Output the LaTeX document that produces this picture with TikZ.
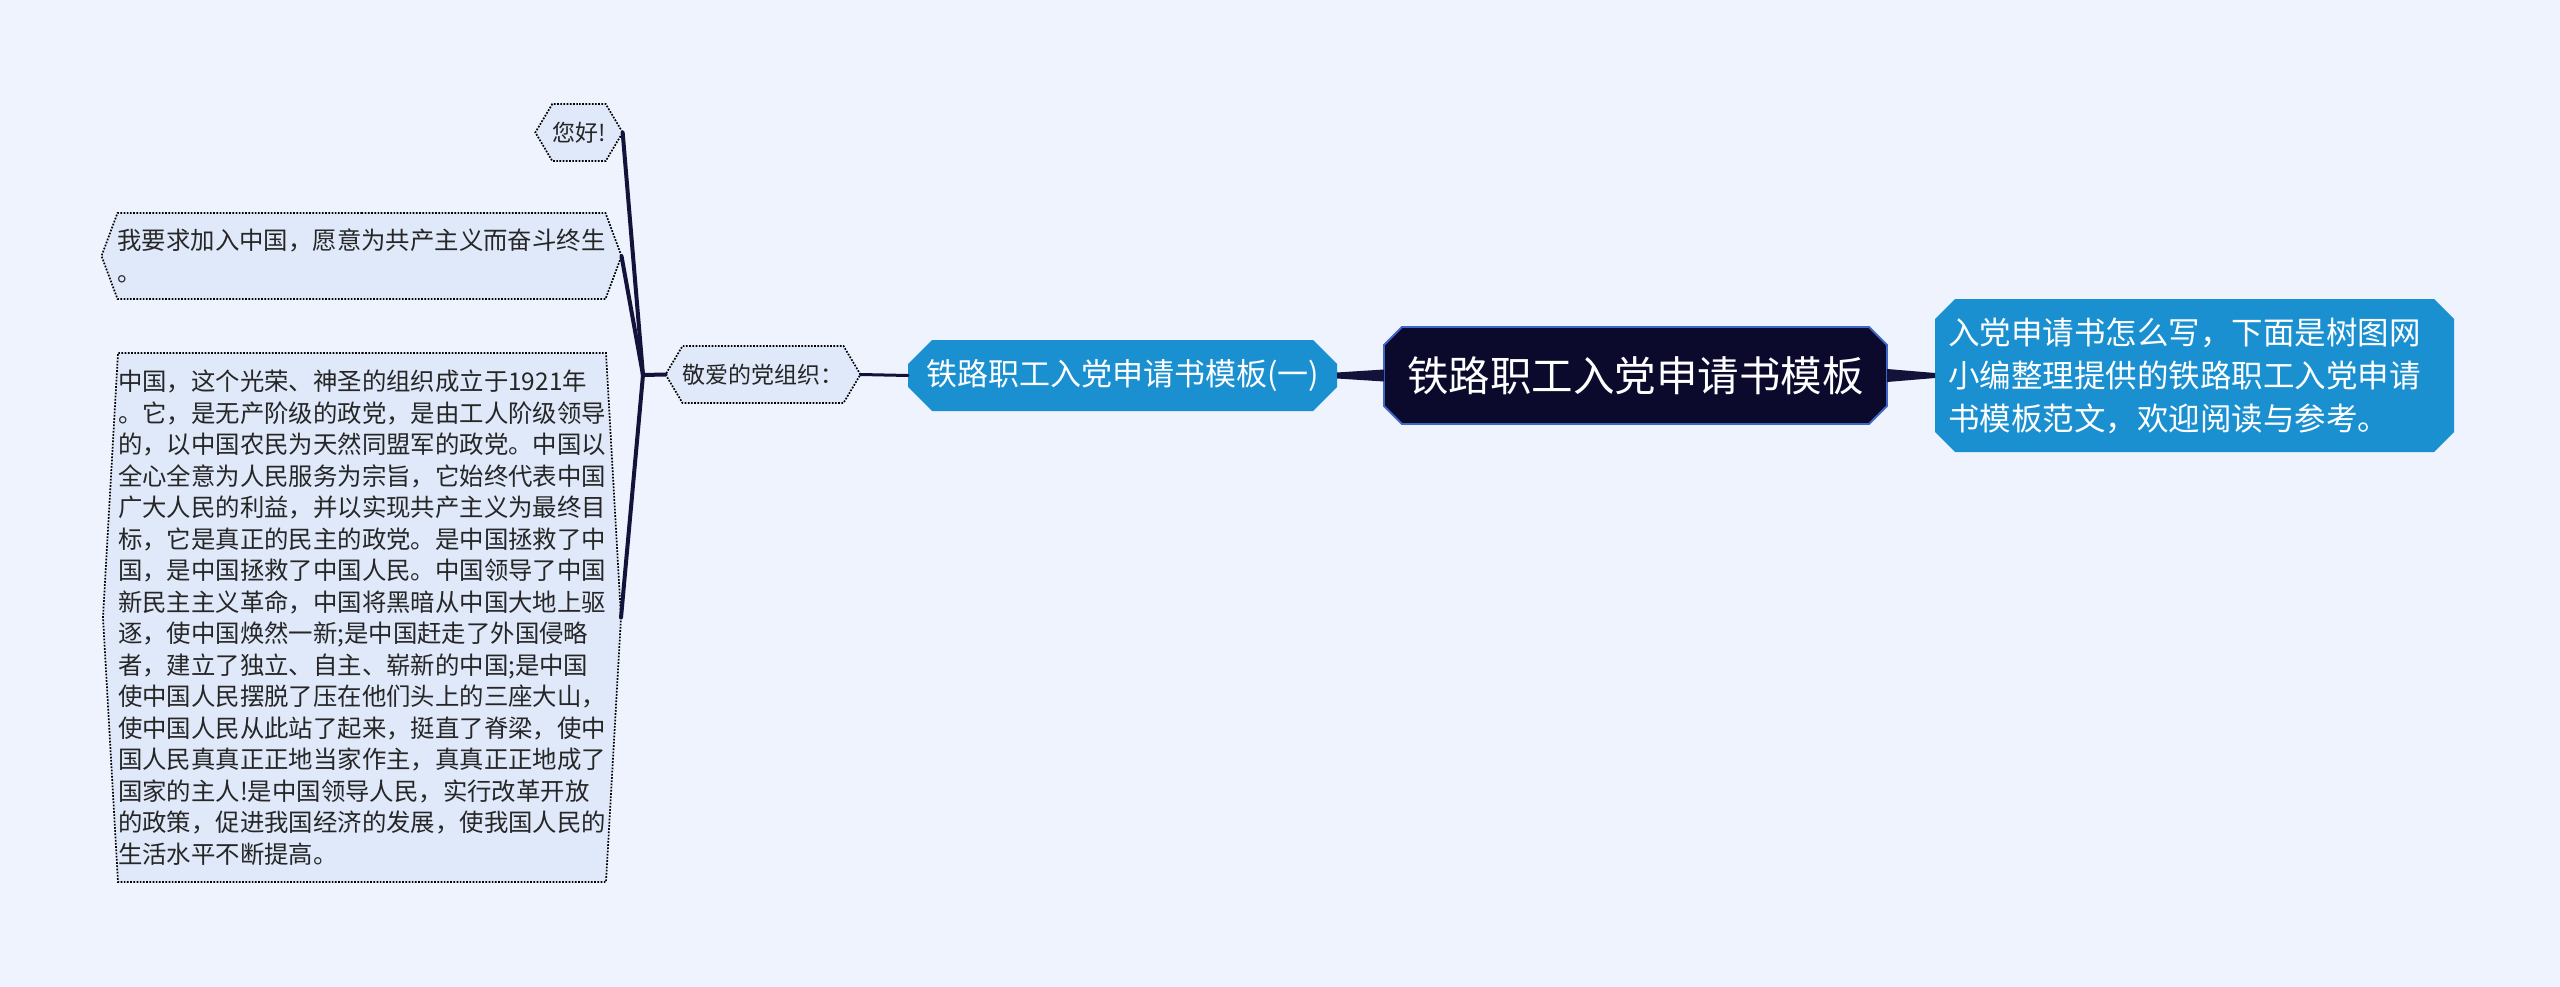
\documentclass[tikz,border=0pt]{standalone}
\usepackage{fontspec}
\newfontfamily\cjk{Noto Sans CJK SC}
\usetikzlibrary{calc,shapes.misc,shapes.symbols}
\definecolor{bgblue}{HTML}{EEF3FD}
\definecolor{leaffill}{HTML}{E0E9FA}
\definecolor{mainblue}{HTML}{1B90D1}
\definecolor{rootnavy}{HTML}{0B0A2D}
\definecolor{rootedge}{HTML}{3F66C9}
\definecolor{linknavy}{HTML}{13123A}
\tikzset{
  topic/.style={inner sep=0,outer sep=0},
  topic root/.style={topic,chamfered rectangle,chamfered rectangle xsep=9pt,chamfered rectangle ysep=9pt,
    fill=rootnavy,draw=rootedge,line width=1.8pt,text=white},
  topic main/.style={topic,chamfered rectangle,chamfered rectangle xsep=12pt,chamfered rectangle ysep=12pt,
    fill=mainblue,text=white},
  topic leaf/.style={topic,signal,signal to=west and east,fill=leaffill,draw=black,
    line width=1.7pt,dash pattern=on 1.7pt off 1.5pt,text=black!85},
  connect/.style={line width=4pt,linknavy,line cap=round}
}

\begin{document}
\begin{tikzpicture}[x=1pt,y=-1pt]

  % Canvas
  \fill[bgblue] (0,0) rectangle (2560,987);
  \useasboundingbox (0,0) rectangle (2560,987);

  % Root and right branch
  \node[topic root,minimum width=503pt,minimum height=97pt,
    font=\cjk\fontsize{41.5}{46}\selectfont] (root) at (1635.5,375.5) {铁路职工入党申请书模板};
  \node[topic main,chamfered rectangle xsep=10pt,chamfered rectangle ysep=10pt,
    minimum width=519pt,minimum height=153pt,text width=493pt,align=left,
    font=\cjk\fontsize{31.5}{43}\selectfont] (intro) at (2194.5,375.5)
    {入党申请书怎么写，下面是树图网\\小编整理提供的铁路职工入党申请\\书模板范文，欢迎阅读与参考。};

  % Left branch
  \node[topic main,minimum width=429pt,minimum height=71pt,
    font=\cjk\fontsize{31}{36}\selectfont] (branch) at (1122.5,375.5) {铁路职工入党申请书模板(一)};
  \node[topic leaf,signal pointer angle=118.5,minimum width=194pt,minimum height=57pt,
    font=\cjk\fontsize{23}{28}\selectfont] (dear) at (763,374.5) {敬爱的党组织：};

  % Leaves
  \node[topic leaf,signal pointer angle=118.5,minimum width=82pt,minimum height=57pt,
    font=\cjk\fontsize{23}{28}\selectfont] (hello) at (579,132.5) {您好!};
  \node[topic leaf,signal pointer angle=139.2,minimum height=86pt,text width=488pt,align=left,
    font=\cjk\fontsize{24.4}{31.5}\selectfont] (join) at (361.5,256)
    {我要求加入中国，愿意为共产主义而奋斗终生\\。};
  \node[topic leaf,signal pointer angle=173.5,minimum height=529pt,text width=488pt,align=left,
    font=\cjk\fontsize{24.4}{31.5}\selectfont] (creed) at (362,617.5)
    {中国，这个光荣、神圣的组织成立于1921年\\
     。它，是无产阶级的政党，是由工人阶级领导\\
     的，以中国农民为天然同盟军的政党。中国以\\
     全心全意为人民服务为宗旨，它始终代表中国\\
     广大人民的利益，并以实现共产主义为最终目\\
     标，它是真正的民主的政党。是中国拯救了中\\
     国，是中国拯救了中国人民。中国领导了中国\\
     新民主主义革命，中国将黑暗从中国大地上驱\\
     逐，使中国焕然一新;是中国赶走了外国侵略\\
     者，建立了独立、自主、崭新的中国;是中国\\
     使中国人民摆脱了压在他们头上的三座大山，\\
     使中国人民从此站了起来，挺直了脊梁，使中\\
     国人民真真正正地当家作主，真真正正地成了\\
     国家的主人!是中国领导人民，实行改革开放\\
     的政策，促进我国经济的发展，使我国人民的\\
     生活水平不断提高。};

  % Root -> branches (tapered)
  \fill[linknavy] ($(root.west)+(0,-6)$) -- ($(branch.east)+(0,-3)$)
    -- ($(branch.east)+(0,3)$) -- ($(root.west)+(0,6)$) -- cycle;
  \fill[linknavy] ($(root.east)+(0,-6.5)$) -- ($(intro.west)+(0,-2.5)$)
    -- ($(intro.west)+(0,2.5)$) -- ($(root.east)+(0,6.5)$) -- cycle;

  % Left branch -> leaves
  \coordinate (hub) at (643,375);
  \draw[connect,line width=3pt] (branch.west) -- (dear.east);
  \draw[connect] (dear.west) -- (hub);
  \draw[connect] (hub) -- (hello.east);
  \draw[connect] (hub) -- (join.east);
  \draw[connect] (hub) -- (creed.east);

\end{tikzpicture}
\end{document}
